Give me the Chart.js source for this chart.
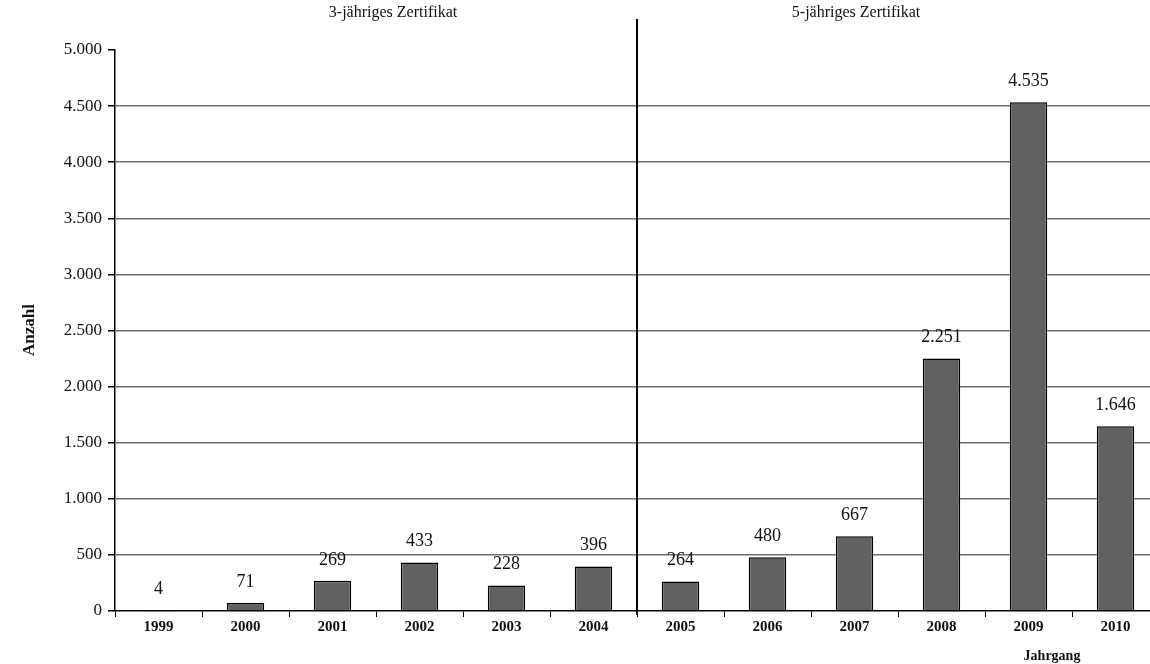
<!DOCTYPE html>
<html>
<head>
<meta charset="utf-8">
<script src="https://cdn.jsdelivr.net/npm/chart.js@4.4.1/dist/chart.umd.min.js"></script>
<style>
  html, body { margin: 0; padding: 0; background: #fff; overflow: hidden; }
  #wrap { width: 1160px; height: 664px; }
</style>
</head>
<body>
<div id="wrap"><canvas id="chart" width="1160" height="664"></canvas></div>
<script>
// Data.
var years = ['1999', '2000', '2001', '2002', '2003', '2004',
             '2005', '2006', '2007', '2008', '2009', '2010'];
var counts = [4, 71, 269, 433, 228, 396, 264, 480, 667, 2251, 4535, 1646];
var sectionTitles = ['3-jähriges Zertifikat', '5-jähriges Zertifikat'];
var dividerAfter = 5; // index of the last year of the first section
var yMax = 5000;
var yStep = 500;

var SERIF = '"Liberation Serif", "DejaVu Serif", serif';

function fmtDe(v) {
    return String(v).replace(/\B(?=(\d{3})+(?!\d))/g, '.');
}

// Value labels, divider and section headings.
var annotate = {
    id: 'annotate',
    afterDatasetsDraw: function(chart) {
        var ctx = chart.ctx;
        var area = chart.chartArea;
        var x = chart.scales.x;
        var meta = chart.getDatasetMeta(0);

        ctx.save();
        ctx.fillStyle = '#111';
        ctx.font = '18px ' + SERIF;
        ctx.textAlign = 'center';
        ctx.textBaseline = 'middle';
        meta.data.forEach(function(bar, i) {
            ctx.fillText(fmtDe(counts[i]), bar.x, bar.y - 21);
        });

        // divider between the two certificate periods
        var xd = (x.getPixelForValue(dividerAfter) + x.getPixelForValue(dividerAfter + 1)) / 2;
        ctx.strokeStyle = '#000';
        ctx.lineWidth = 2;
        ctx.beginPath();
        ctx.moveTo(xd, 19);
        ctx.lineTo(xd, area.bottom + 4);
        ctx.stroke();

        ctx.font = '16px ' + SERIF;
        ctx.fillText(sectionTitles[0], 393, 13);
        ctx.fillText(sectionTitles[1], 856, 13);

        ctx.font = 'bold 14px ' + SERIF;
        ctx.fillText('Jahrgang', 1052, 656);

        ctx.translate(30, 330);
        ctx.rotate(-Math.PI / 2);
        ctx.font = 'bold 17px ' + SERIF;
        ctx.fillText('Anzahl', 0, 0);
        ctx.restore();
    }
};

new Chart(document.getElementById('chart'), {
    type: 'bar',
    data: {
        labels: years,
        datasets: [{
            data: counts,
            backgroundColor: '#616161',
            borderColor: '#000',
            borderWidth: 1.5,
            borderSkipped: 'bottom',
            barPercentage: 0.43,
            categoryPercentage: 1
        }]
    },
    options: {
        responsive: false,
        animation: false,
        layout: { padding: { top: 50, right: 1 } },
        plugins: {
            legend: { display: false },
            tooltip: { enabled: false },
            title: { display: false }
        },
        scales: {
            x: {
                afterFit: function(s) { s.height = 53; },
                grid: {
                    display: true,
                    offset: true,
                    color: 'rgba(0,0,0,0)',
                    tickColor: '#000',
                    tickLength: 6,
                    drawOnChartArea: false
                },
                border: { color: '#000', width: 1.5 },
                ticks: {
                    color: '#111',
                    padding: 1,
                    font: { family: SERIF, size: 15, weight: 'bold' }
                }
            },
            y: {
                min: 0,
                max: yMax,
                afterFit: function(s) { s.width = 115; },
                grid: {
                    color: function(c) {
                        return (c.tick && (c.tick.value === 0 || c.tick.value === yMax)) ? 'rgba(0,0,0,0)' : '#6e6e6e';
                    },
                    lineWidth: 1.5,
                    tickColor: '#000',
                    tickLength: 7
                },
                border: { color: '#000', width: 1.5 },
                ticks: {
                    stepSize: yStep,
                    color: '#111',
                    padding: 6,
                    font: { family: SERIF, size: 17 },
                    callback: function(v) { return fmtDe(v); }
                }
            }
        }
    },
    plugins: [annotate]
});
</script>
</body>
</html>
